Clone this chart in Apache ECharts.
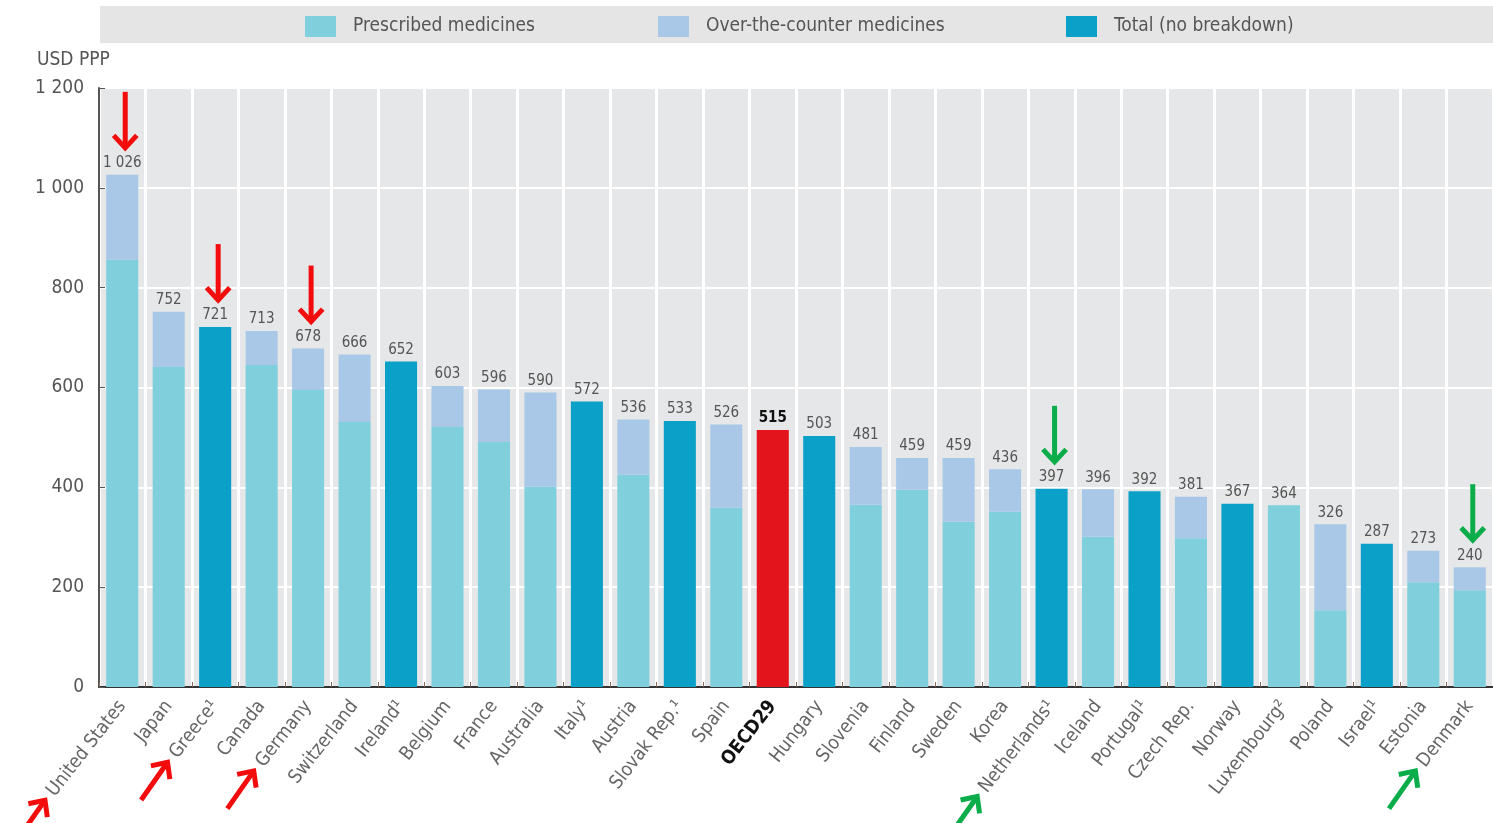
<!DOCTYPE html>
<html>
<head>
<meta charset="utf-8">
<script src="https://cdn.jsdelivr.net/npm/echarts@6/dist/echarts.min.js"></script>
<style>
  html, body { margin: 0; padding: 0; background: #fff; }
  #chart { width: 1493px; height: 823px; }
</style>
</head>
<body>
<div id="chart"></div>
<script>
// 国家 / categories
const countries = ['United States', 'Japan', 'Greece¹', 'Canada', 'Germany', 'Switzerland', 'Ireland¹',
  'Belgium', 'France', 'Australia', 'Italy¹', 'Austria', 'Slovak Rep.¹', 'Spain', 'OECD29', 'Hungary',
  'Slovenia', 'Finland', 'Sweden', 'Korea', 'Netherlands¹', 'Iceland', 'Portugal¹', 'Czech Rep.',
  'Norway', 'Luxembourg²', 'Poland', 'Israel¹', 'Estonia', 'Denmark'];
// total spending per capita (labels above bars)
const totals = [1026, 752, 721, 713, 678, 666, 652, 603, 596, 590, 572, 536, 533, 526, 515, 503,
  481, 459, 459, 436, 397, 396, 392, 381, 367, 364, 326, 287, 273, 240];
// prescribed part, null = no breakdown
const prescribed = [856, 641, null, 645, 595, 531, null, 521, 491, 401, null, 425, null, 359, null, null,
  365, 395, 331, 351, null, 301, null, 298, null, 364, 154, null, 210, 194];
const yTicks = [0, 200, 400, 600, 800, 1000, 1200];
// annotated countries (arrows)
const redMarked = ['United States', 'Greece¹', 'Germany'];
const greenMarked = ['Netherlands¹', 'Denmark'];

const FONT = '"DejaVu Sans Condensed", "Liberation Sans Narrow", sans-serif';
const C_PRES = '#7fcfdc';
const C_OTC = '#a9c8e8';
const C_TOTAL = '#0aa0c8';
const C_OECD = '#e3141b';
const LABEL_ROTATE = 52;
const LABEL_SIZE = 19;
const LABEL_MARGIN = 16;

const fmt = v => String(v).replace(/\B(?=(\d{3})+(?!\d))/g, ' ');

const presData = prescribed.map(v => (v == null ? 0 : v));
const otcData = prescribed.map((v, i) => (v == null ? 0 : totals[i] - v));
const totalData = prescribed.map((v, i) => {
  if (v != null) return 0;
  if (countries[i] === 'OECD29') return { value: totals[i], itemStyle: { color: C_OECD } };
  return totals[i];
});

const chart = echarts.init(document.getElementById('chart'));

const legendBase = {
  top: 11,
  icon: 'rect',
  itemWidth: 31,
  itemHeight: 21,
  textStyle: { fontFamily: FONT, fontSize: 19, color: '#555', padding: [0, 0, 0, 12] }
};

chart.setOption({
  backgroundColor: '#fff',
  animation: false,
  textStyle: { fontFamily: FONT },
  legend: [
    Object.assign({ left: 300, data: ['Prescribed medicines'] }, legendBase),
    Object.assign({ left: 653, data: ['Over-the-counter medicines'] }, legendBase),
    Object.assign({ left: 1061, data: ['Total (no breakdown)'] }, legendBase)
  ],
  grid: {
    left: 99,
    top: 88,
    width: 1399,
    height: 599,
    show: true,
    backgroundColor: '#e6e7e8',
    borderWidth: 0
  },
  xAxis: {
    type: 'category',
    data: countries,
    axisLine: { lineStyle: { color: '#333', width: 2 } },
    axisTick: { show: true, inside: true, length: 5, lineStyle: { color: '#8a6a5a' } },
    splitLine: { show: true, interval: 0, lineStyle: { color: '#fff', width: 3 } },
    axisLabel: {
      interval: 0,
      rotate: LABEL_ROTATE,
      margin: LABEL_MARGIN,
      fontFamily: FONT,
      fontSize: LABEL_SIZE,
      color: '#666',
      formatter: v => (v === 'OECD29' ? '{b|' + v + '}' : v),
      rich: { b: { fontFamily: FONT, fontSize: LABEL_SIZE, fontWeight: 'bold', color: '#111' } }
    }
  },
  yAxis: {
    type: 'value',
    min: 0,
    max: 1200,
    interval: 200,
    axisLine: { show: true, lineStyle: { color: '#555', width: 2 } },
    axisTick: { show: true, inside: true, length: 6, lineStyle: { color: '#555' } },
    splitLine: { show: true, lineStyle: { color: '#fff', width: 2 } },
    axisLabel: {
      margin: 15,
      fontFamily: FONT,
      fontSize: 19,
      color: '#555',
      formatter: v => (yTicks.indexOf(v) >= 0 ? fmt(v) : '')
    }
  },
  series: [
    {
      name: 'Prescribed medicines',
      type: 'bar',
      stack: 'a',
      barCategoryGap: '31%',
      itemStyle: { color: C_PRES },
      data: presData
    },
    {
      name: 'Over-the-counter medicines',
      type: 'bar',
      stack: 'a',
      itemStyle: { color: C_OTC },
      data: otcData
    },
    {
      name: 'Total (no breakdown)',
      type: 'bar',
      stack: 'a',
      itemStyle: { color: C_TOTAL },
      data: totalData
    },
    {
      // 数值标签
      name: 'labels',
      type: 'bar',
      stack: 'a',
      silent: true,
      itemStyle: { color: 'transparent' },
      data: totals.map(() => 0),
      label: {
        show: true,
        position: 'top',
        distance: 4,
        fontFamily: FONT,
        fontSize: 15,
        color: '#555',
        formatter: p => (countries[p.dataIndex] === 'OECD29'
          ? '{b|' + fmt(totals[p.dataIndex]) + '}'
          : fmt(totals[p.dataIndex])),
        rich: { b: { fontFamily: FONT, fontSize: 15, fontWeight: 'bold', color: '#111' } }
      }
    }
  ]
});

// 注释箭头
const ctx = document.createElement('canvas').getContext('2d');
ctx.font = LABEL_SIZE + 'px ' + FONT;
const axisY = chart.convertToPixel({ yAxisIndex: 0 }, 0);
const rad = LABEL_ROTATE * Math.PI / 180;
const dir = [Math.cos(rad), -Math.sin(rad)]; // label reading direction
const arrowDir = [Math.cos(55 * Math.PI / 180), -Math.sin(55 * Math.PI / 180)];

function arrow(tip, d, len, color) {
  const tail = [tip[0] - d[0] * len, tip[1] - d[1] * len];
  const wing = (a) => {
    const c = Math.cos(a), s = Math.sin(a);
    const bx = -d[0], by = -d[1];
    return [tip[0] + (bx * c - by * s) * 17, tip[1] + (bx * s + by * c) * 17];
  };
  return {
    type: 'group',
    z: 100,
    children: [
      { type: 'line', shape: { x1: tail[0], y1: tail[1], x2: tip[0] - d[0] * 3, y2: tip[1] - d[1] * 3 },
        style: { stroke: color, lineWidth: 5 } },
      { type: 'polyline', shape: { points: [wing(0.75), tip, wing(-0.75)] },
        style: { stroke: color, lineWidth: 5, fill: null, lineJoin: 'miter' } }
    ]
  };
}

const graphics = [
  { type: 'rect', z: -1, shape: { x: 100, y: 6, width: 1393, height: 37 }, style: { fill: '#e5e5e5' } },
  { type: 'text', left: 37, top: 51, style: { text: 'USD PPP', font: '19px ' + FONT, fill: '#555' } }
];

[[redMarked, '#f20c0c'], [greenMarked, '#0aad4a']].forEach(([list, color]) => {
  list.forEach(name => {
    const i = countries.indexOf(name);
    const cx = chart.convertToPixel({ xAxisIndex: 0 }, name);
    const top = chart.convertToPixel({ yAxisIndex: 0 }, totals[i]);
    // down arrow above the value label
    graphics.push(arrow([cx + 3, top - 27], [0, 1], 56, color));
    // arrow pointing at the start of the axis label
    const w = ctx.measureText(name).width;
    const start = [cx - w * dir[0], axisY + LABEL_MARGIN - w * dir[1]];
    const tip = [start[0] - 6, start[1] + 6];
    graphics.push(arrow(tip, arrowDir, 46, color));
  });
});

chart.setOption({ graphic: graphics });
</script>
</body>
</html>
